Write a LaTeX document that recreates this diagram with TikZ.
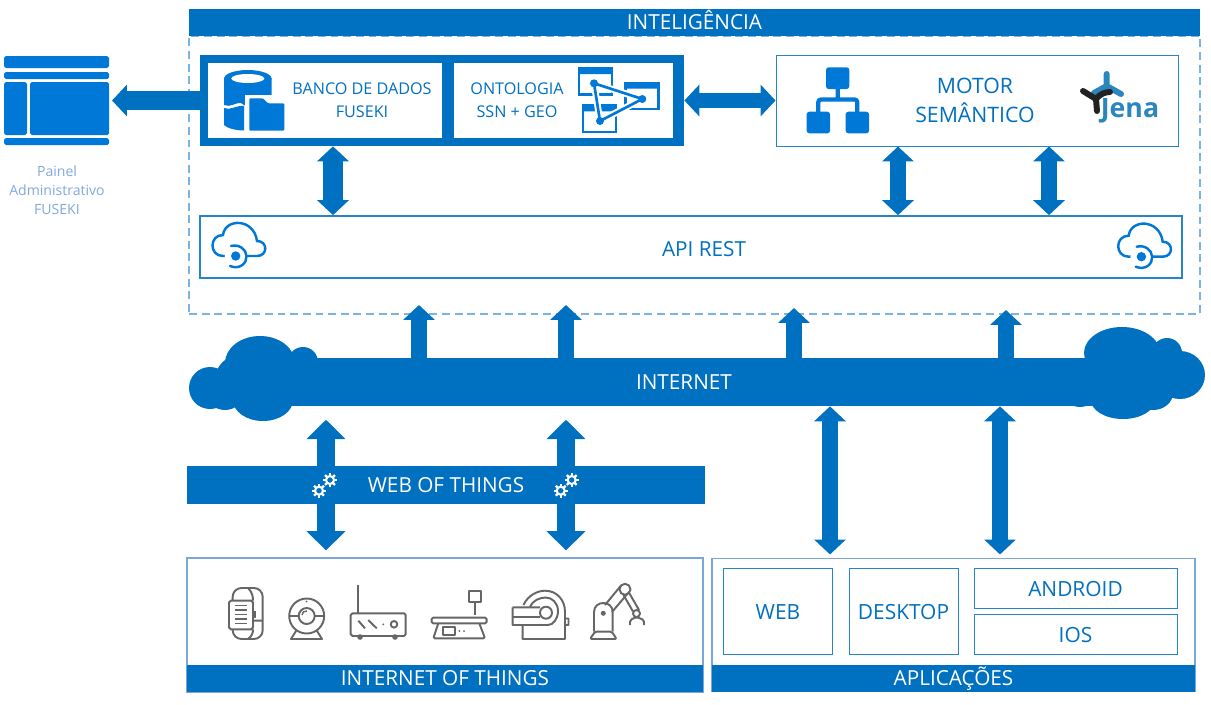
\documentclass[tikz,border=0pt]{standalone}
\usepackage{fontspec}
\setmainfont{Open Sans}
\usetikzlibrary{arrows.meta}
\definecolor{barblue}{HTML}{0070C0}
\definecolor{iconblue}{HTML}{0078D7}
\definecolor{dashblue}{HTML}{7AB4E4}
\definecolor{edgeblue}{HTML}{7AA7D8}
\definecolor{softblue}{HTML}{7FA9DC}
\definecolor{iotgray}{HTML}{666666}
\definecolor{jenablue}{HTML}{2A86BC}
\definecolor{jenablack}{HTML}{222222}
\tikzset{
  sized/.style 2 args={minimum width=#1*0.02cm,minimum height=#2*0.02cm,inner sep=0pt},
  barbox/.style={fill=barblue,text=white,text height=8.5pt,text depth=0pt,font=\fontsize{11.8}{13}\selectfont},
  linebox/.style={draw=barblue!85,line width=.55pt,text=barblue,fill=white,text height=9.1pt,text depth=0pt,font=\fontsize{11.9}{13}\selectfont},
  lightbox/.style={draw=edgeblue,line width=.6pt,fill=white},
  label/.style={inner sep=0pt,align=center,text=barblue,font=\fontsize{9.2}{13}\selectfont},
  bigarrow/.style={barblue,line width=9pt,>={Triangle[length=8.5pt,width=17.6pt]}},
  fatarrow/.style={barblue,line width=10.8pt,>={Triangle[length=11pt,width=21.5pt]}},
  iot/.style={draw=iotgray,line width=1.1pt,line join=round},
  iconline/.style={draw=iconblue,line width=1.4pt,line cap=round},
}
\newcommand{\apiicon}[2]{
  \begin{scope}[shift={(#1,#2)}]
    \draw[iconline] (228,256) -- (223,256) .. controls (209,256) and (209,235) .. (223,235)
      .. controls (225,218) and (254,218) .. (257,241) .. controls (268,241) and (268,256) .. (257,256) -- (246,256);
    \fill[white] (235.7,256) circle (11);
    \fill[iconblue] (235.7,256) circle (4.7);
    \draw[iconline] (230,266) .. controls (240,270) and (247,263) .. (246.5,256) .. controls (246,249) and (239,244) .. (231,246);
  \end{scope}
}
\newcommand{\gearmark}[2]{
  \draw[white,line width=1.2pt] (#1,#2) circle (4);
  \foreach \a in {0,45,...,315}
    \draw[white,line width=1.3pt] (#1,#2) ++(\a:4) -- ++(\a:3);
}
\begin{document}
\begin{tikzpicture}[x=0.02cm,y=-0.02cm]
\useasboundingbox (0,0) rectangle (1211,704);

% inteligencia
\node[sized={1011}{278},draw=dashblue,dash pattern=on 4.5pt off 2.7pt,line width=.8pt] (intel) at (694.5,175) {};
\node[barbox,sized={1011}{27}] (inteltitle) at (694.5,22.5) {INTELIGÊNCIA};

\node[sized={484}{91},fill=barblue] (store) at (442,100.5) {};
\node[sized={234}{75},fill=white] (banco) at (325,100.5) {};
\node[sized={219}{75},fill=white] (onto) at (563.5,100.5) {};
\node[label] (bancotxt) at (362,100) {BANCO DE DADOS\\FUSEKI};
\node[label] (ontotxt) at (517,100) {ONTOLOGIA\\SSN + GEO};
\node[linebox,sized={402}{91}] (motor) at (977,100.5) {};
\node[label,font=\fontsize{12.1}{16.6}\selectfont] (motortxt) at (975,100) {MOTOR\\SEMÂNTICO};
\node[linebox,line width=1pt,sized={982}{62}] (api) at (691,247) {};
\node[label,font=\fontsize{11.8}{13}\selectfont] (apitxt) at (704,249) {API REST};

% painel
\fill[iconblue,rounded corners=1pt] (4,56) rectangle (109,68) (4,72) rectangle (109,79)
  (4,82) rectangle (27,135) (30,82) rectangle (109,135) (4,138) rectangle (109,145);
\coordinate (panel) at (112,100.5);
\node[label,text=softblue,font=\fontsize{8}{10.8}\selectfont] (paneltxt) at (57,190.3) {Painel\\Administrativo\\FUSEKI};

% internet
\fill[barblue] (210,388) circle (21) (225,390) circle (20) (303,362) circle (15) (240,380) circle (25)
  (260,363) circle[x radius=35,y radius=27] (263,400) circle[x radius=30,y radius=21] (300,385) circle (20)
  (1180,375) circle[x radius=25,y radius=24] (1122,353) circle[x radius=38,y radius=26] (1167,353) circle (15)
  (1123,400) circle[x radius=32,y radius=19] (1080,387) circle (20) (1153,393) circle[x radius=20,y radius=17]
  (1135,375) circle (32);
\node[barbox,sized={860}{48}] (internet) at (684,382) {INTERNET};

% web of things
\node[barbox,sized={518}{38}] (wot) at (446,485) {WEB OF THINGS};

% caixas de baixo
\node[lightbox,sized={516}{134}] (iot) at (445,625) {};
\node[barbox,sized={516}{27}] (iotbar) at (445,678) {INTERNET OF THINGS};
\node[lightbox,sized={483}{133}] (apps) at (953.5,625) {};
\node[barbox,sized={483}{27}] (appsbar) at (953.5,678) {APLICAÇÕES};
\node[linebox,sized={109}{86}] (web) at (778,611.5) {WEB};
\node[linebox,sized={109}{86}] (desktop) at (903.5,611.5) {DESKTOP};
\node[linebox,sized={203}{40}] (android) at (1075.5,588.5) {ANDROID};
\node[linebox,sized={203}{40}] (ios) at (1075.5,634.5) {IOS};

% setas
\coordinate (sa) at (333,0);
\coordinate (ma) at (898,0);
\coordinate (mb) at (1049,0);
\coordinate (upa) at (419,305);
\coordinate (upb) at (566,305);
\coordinate (upc) at (794,308);
\coordinate (upd) at (1006,310);
\coordinate (wa) at (326,0);
\coordinate (wb) at (566,0);
\coordinate (aa) at (830,0);
\coordinate (ab) at (1000,0);
\draw[bigarrow,line width=10.5pt,->] (store.west |- panel) -- (panel);
\draw[bigarrow,<->] (store.east |- motor.west) -- (motor.west);
\draw[bigarrow,line width=11pt,<->] (sa |- store.south) -- (sa |- api.north);
\draw[bigarrow,<->] (ma |- motor.south) -- (ma |- api.north);
\draw[bigarrow,<->] (mb |- motor.south) -- (mb |- api.north);
\foreach \up in {upa,upb,upc,upd}
  \draw[bigarrow,->] (\up |- internet.north) -- (\up);
\draw[fatarrow,<->,shorten <=7.6pt,shorten >=4pt] (wa |- internet.south) -- (wa |- iot.north);
\draw[fatarrow,<->,shorten <=7.6pt,shorten >=4pt] (wb |- internet.south) -- (wb |- iot.north);
\draw[bigarrow,<->,shorten >=2pt] (aa |- internet.south) -- (aa |- apps.north);
\draw[bigarrow,<->,shorten >=2pt] (ab |- internet.south) -- (ab |- apps.north);

% engrenagens
\gearmark{319}{490.7}
\gearmark{330}{480}
\gearmark{560.7}{490.7}
\gearmark{571.7}{480}

% icone banco
\fill[iconblue] (247.8,78.5) circle[x radius=23.7,y radius=8.5];
\fill[iconblue] (224,78) -- (271.7,78) -- (271.7,102) .. controls (262,98) and (250,112) .. (241,103)
  .. controls (236,102) and (230,108) .. (224,105) -- cycle;
\fill[iconblue] (224,108) .. controls (230,111) and (236,105) .. (244,106) -- (244,130.5)
  .. controls (235,130.5) and (227,128) .. (224,125) -- cycle;
\fill[white] (247.8,78.5) circle[x radius=16.5,y radius=4.5];
\fill[white] (245,95) rectangle (288,134);
\fill[iconblue,rounded corners=.6pt] (249.3,98.3) -- (263,98.3) -- (268,103.3) -- (284.3,103.3) -- (284.3,130.7) -- (249.3,130.7) -- cycle;

% icone ontologia
\draw[iconblue,line width=1.2pt] (578.8,68.2) rectangle (611.8,94.5) (625.5,82.8) rectangle (658.5,108.8) (583.2,105.5) rectangle (616.2,131.8);
\fill[iconblue] (578.3,67.7) rectangle (612.3,74) (625,82.3) rectangle (659,88.6) (582.7,105) rectangle (616.7,111.3);
\draw[white,line width=3.8pt,line join=round] (594,83.3) -- (642.3,99) -- (600,121) -- cycle;
\draw[iconblue,line width=1.5pt,line join=round] (594,83.3) -- (642.3,99) -- (600,121) -- cycle;
\fill[iconblue] (594,83.3) circle (4) (642.3,99) circle (4) (600,121) circle (4);

% icone motor
\draw[iconblue,line width=2.4pt,rounded corners=1.5pt] (818.3,112) -- (818.3,99.5) -- (857.3,99.5) -- (857.3,112) (837.7,88) -- (837.7,99.5);
\fill[iconblue,rounded corners=1.5pt] (826,67.3) rectangle (849.3,89) (806.7,111.7) rectangle (830,133.3) (845.7,111.7) rectangle (869,133.3);

% jena
\draw[jenablue,line width=3.4pt,line cap=round] (1106.7,74) -- (1106.7,86) (1106.7,86) -- (1121,94) (1106.7,86) -- (1094,93);
\draw[jenablack,line width=3.4pt,line cap=round,line join=round] (1083,91) -- (1096,99) .. controls (1100,94) and (1105,92) .. (1110,92) (1096,99) -- (1097,111);
\node[inner sep=0pt,text=jenablue,font=\fontsize{15.2}{16}\selectfont\bfseries] (jena) at (1130,111) {Jena};

% api
\apiicon{0}{0}
\apiicon{905.7}{0.7}

% icones iot
\draw[iot,rounded corners=5pt] (232.7,600) -- (232.7,588) -- (262.7,588) -- (262.7,639) -- (232.7,639) -- (232.7,629);
\draw[iot,fill=white,rounded corners=1pt] (229,600.7) rectangle (253,629.3);
\draw[iot] (248,588) .. controls (252,592) and (253,596) .. (253,600.7) (248,639) .. controls (252,636) and (253,633) .. (253,629.3) (253,620.7) -- (262.7,620.7);
\draw[iot,line width=.9pt] (235,605.5) -- (247.3,605.5) (235,610) -- (247.3,610) (235,614.5) -- (247.3,614.5) (235,619) -- (247.3,619) (235,623.5) -- (247.3,623.5);
\fill[iotgray] (253,611) rectangle (255.5,618);

\draw[iot] (306.7,616) circle (17.5) (306.7,616) circle (8) (296,631) -- (291,639) -- (322,639) -- (317,631);
\draw[iot] (289.5,616) -- (298.7,616) (314.7,616) -- (324,616);
\draw[iot,line width=.8pt] (302,615) .. controls (302,612) and (304,611) .. (307,611);
\fill[iotgray] (306.7,601.5) circle (1);

\draw[iot] (358.3,585) -- (358.3,613.3);
\draw[iot,rounded corners=1pt] (350.7,613.3) rectangle (405.7,636);
\draw[iot] (358.3,620.7) -- (365,628.3) (368.3,620) -- (376.7,628.3) (394,624.3) circle (3.3);
\fill[iotgray] (383.3,624.3) circle (1) (360,637) circle (2.8) (395,637) circle (2.8);

\draw[iot] (469.3,590.7) rectangle (481,601.7) (475,601.7) -- (475,615);
\draw[iot,rounded corners=.8pt] (431.7,617.7) rectangle (486.7,623.3);
\draw[iot,rounded corners=.8pt] (438.3,623.3) -- (433.3,638.3) -- (485,638.3) -- (479.3,623.3);
\draw[iot] (442.7,627.3) rectangle (455,635);
\fill[iotgray] (459.3,631) circle (1) (464,631) circle (1);

\draw[iot] (523.5,605) .. controls (528,595) and (538,590.7) .. (545,590.7) .. controls (557,590.7) and (565,600) .. (565,612) -- (565,639) -- (522.7,639) -- (522.7,625);
\draw[iot] (530,607) .. controls (533,600) and (540,597.5) .. (546,597.5) .. controls (552,597.5) and (558,603) .. (558,611);
\draw[iot] (512.7,607.3) -- (540,607.3) (512.7,617) -- (540,617) (512.7,607.3) -- (512.7,625) -- (548,625) .. controls (553,625) and (558,619) .. (558,611);
\draw[iot] (546,612.7) circle (6) (565,618.5) rectangle (568.5,625);

\draw[iot,rounded corners=.8pt] (595,631.7) -- (590,639) -- (616.7,639) -- (611.7,631.7) -- cycle;
\draw[iot] (594,631.7) -- (594,612) .. controls (594,600) and (612.7,600) .. (612.7,612) -- (612.7,631.7);
\fill[iotgray] (603.3,613.3) circle (2.5);
\draw[iot] (605,605) -- (621,585.5) (612,612) -- (629,592) (625,589.3) circle (5.5);
\draw[iot] (623.5,595) -- (633,611.5) (629.5,593.5) -- (639,610);
\draw[iot] (636.5,613.5) circle (3.5);
\draw[iot,rounded corners=1pt] (630,625) -- (630,620) -- (636.5,617) -- (644,620) -- (644,625);
\end{tikzpicture}
\end{document}
